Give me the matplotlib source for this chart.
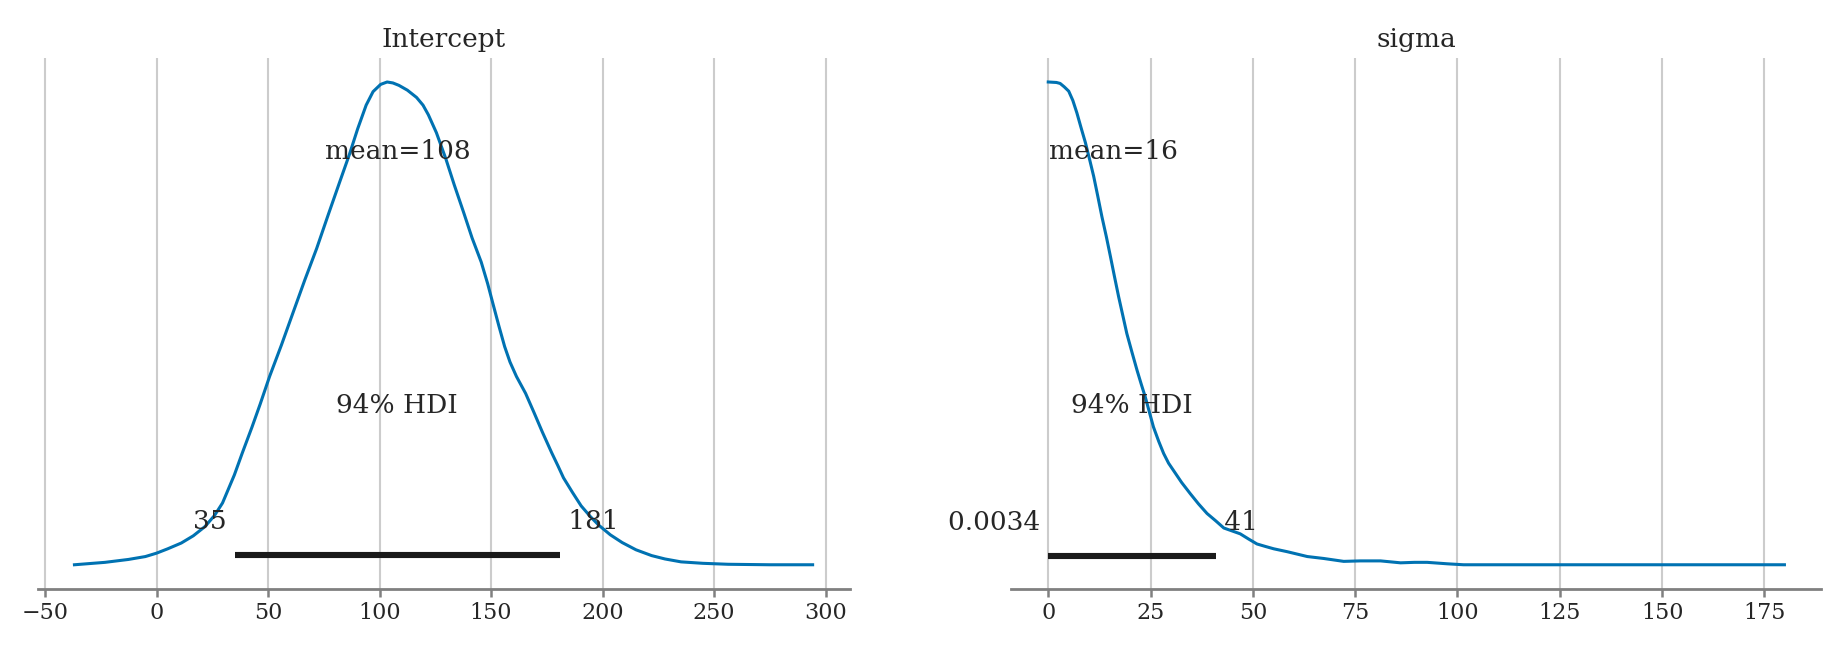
import matplotlib
matplotlib.use("Agg")
import matplotlib.pyplot as plt
import numpy as np

# Intercept posterior density (normalized to peak = 1)
intercept_x = [-36.8, -23.1, -12.6, -5, 0, 5, 11.1, 16.5, 21.7, 26, 29.6, 34.9, 38.5, 42.8, 46.5, 50.7, 56, 61.2,
               66.5, 71.8, 77, 82.3, 86.5, 90.2, 94, 97.1, 100.5, 103.4, 106, 108.7, 112.5, 116.6, 119.5, 121.9,
               125.5, 129.8, 133.5, 137.7, 141.5, 145.6, 148.5, 150.9, 153.5, 156.1, 158.5, 161.4, 165.5, 169.3,
               173, 177.2, 180, 182.5, 186.5, 190.4, 194.5, 198.3, 203.5, 208.8, 215, 222.0, 228, 235.2, 245,
               256.3, 275, 294.2]
intercept_d = [0.0, 0.005, 0.011, 0.017, 0.024, 0.033, 0.045, 0.06, 0.079, 0.102, 0.128, 0.186, 0.232, 0.285, 0.333,
               0.39, 0.455, 0.522, 0.59, 0.655, 0.725, 0.795, 0.85, 0.903, 0.952, 0.98, 0.995, 1.0, 0.998, 0.993,
               0.983, 0.968, 0.952, 0.932, 0.895, 0.84, 0.787, 0.73, 0.677, 0.627, 0.582, 0.54, 0.495, 0.452, 0.42,
               0.39, 0.355, 0.315, 0.275, 0.232, 0.205, 0.18, 0.15, 0.122, 0.1, 0.082, 0.062, 0.046, 0.031, 0.019,
               0.012, 0.006, 0.003, 0.001, 0.0, 0.0]

# sigma posterior density (normalized to peak = 1)
sigma_x = [0, 2.0, 2.9, 3.9, 5.0, 6.0, 7.0, 8.0, 9.1, 10.1, 11.1, 12.1, 13.1, 14.2, 15.2, 16.2, 17.2, 18.2, 19.2,
           20.5, 21.7, 22.7, 23.7, 24.7, 25.7, 27.0, 28.2, 29.4, 30.6, 32.6, 34.7, 36.7, 38.8, 40.9, 42.9, 44.9,
           46.9, 49.0, 51.0, 53.0, 55.1, 58.4, 63.3, 67.3, 72.2, 76.3, 81.2, 86.1, 89.5, 92.6, 97.5, 101.5, 115,
           125, 140, 155, 170, 179.9]
sigma_d = [1.0, 0.999, 0.997, 0.99, 0.981, 0.962, 0.936, 0.906, 0.874, 0.84, 0.805, 0.764, 0.722, 0.68, 0.639,
           0.597, 0.556, 0.518, 0.48, 0.44, 0.404, 0.376, 0.349, 0.318, 0.287, 0.257, 0.232, 0.212, 0.197, 0.172,
           0.149, 0.128, 0.108, 0.093, 0.078, 0.072, 0.066, 0.055, 0.045, 0.04, 0.035, 0.029, 0.019, 0.015, 0.009,
           0.01, 0.01, 0.006, 0.007, 0.007, 0.004, 0.002, 0.002, 0.002, 0.002, 0.002, 0.002, 0.002]

titles = ["Intercept", "sigma"]
means = [108, 16]
mean_labels = ["mean=108", "mean=16"]
hdi_low = [35, 0.0034]
hdi_high = [181, 41]
hdi_low_labels = ["35", "0.0034"]
hdi_high_labels = ["181", "41"]
intercept_ticks = [-50, 0, 50, 100, 150, 200, 250, 300]
sigma_ticks = [0, 25, 50, 75, 100, 125, 150, 175]

plt.rcParams["font.family"] = ["DejaVu Serif"]
text_color = "#262626"
blue = "#0072b2"
LABEL_FS = 19
TICK_FS = 16

fig = plt.figure(figsize=(18.4, 6.5), dpi=100)
ax1 = fig.add_axes([0.0204, 0.094, 0.4413, 0.817])
ax2 = fig.add_axes([0.5497, 0.094, 0.4401, 0.817])

series = [(intercept_x, intercept_d, intercept_ticks), (sigma_x, sigma_d, sigma_ticks)]
for i, ax in enumerate([ax1, ax2]):
    xs, ds, ticks = series[i]
    ax.plot(xs, ds, color=blue, lw=2.2, solid_joinstyle="round")
    ax.set_xticks(ticks)
    ax.set_xticklabels([("\u2212" + str(-t)) if t < 0 else str(t) for t in ticks])
    ax.set_yticks([])
    ax.margins(x=0.05, y=0.05)
    ax.relim()
    ax.autoscale_view()
    ylim = ax.get_ylim()
    ph = ylim[1]
    ax.plot([hdi_low[i], hdi_high[i]], [ph * 0.02, ph * 0.02], color="#1a1a1a", lw=4.4, solid_capstyle="butt")
    ax.text(hdi_low[i], ph * 0.07, hdi_low_labels[i] + " ", ha="right", fontsize=LABEL_FS, color=text_color)
    ax.text(hdi_high[i], ph * 0.07, " " + hdi_high_labels[i], ha="left", fontsize=LABEL_FS, color=text_color)
    ax.text((hdi_low[i] + hdi_high[i]) / 2, ph * 0.3, "94% HDI", ha="center", fontsize=LABEL_FS, color=text_color)
    ax.text(means[i], ph * 0.8, mean_labels[i], ha="center", fontsize=LABEL_FS, color=text_color)
    ax.set_ylim(ylim)
    ax.set_title(titles[i], fontsize=LABEL_FS, color=text_color, pad=8)
    for s in ["left", "right", "top"]:
        ax.spines[s].set_visible(False)
    ax.spines["bottom"].set_color("#808080")
    ax.spines["bottom"].set_linewidth(2.0)
    ax.tick_params(axis="x", colors="#808080", labelcolor=text_color, labelsize=TICK_FS, length=6, width=1.8)
    ax.grid(axis="x", color="#cccccc", lw=1.5)
    ax.set_axisbelow(True)

fig.savefig("out.png", dpi=100, facecolor="white")
